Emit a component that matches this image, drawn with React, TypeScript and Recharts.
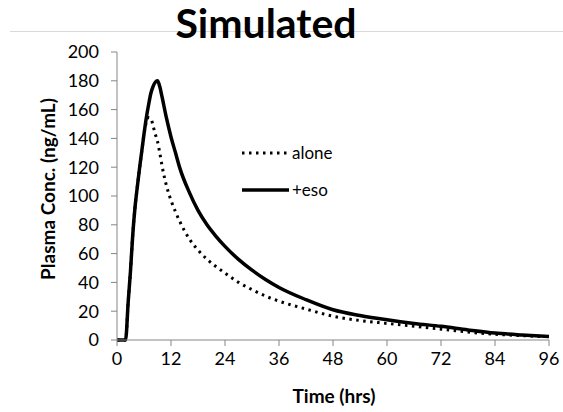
import React from "react";
import { LineChart, Line, XAxis, YAxis, Legend } from "recharts";

const times = [0, 1, 1.9, 2.5, 3, 3.5, 4, 4.5, 5, 5.5, 6, 6.5, 7, 7.5, 8, 8.5, 9, 9.5, 10, 11, 12, 13, 14, 16, 18, 20, 22, 24, 27, 30, 33, 36, 42, 48, 54, 60, 66, 72, 78, 84, 90, 96];
const eso = [0, 0, 0, 27, 48, 73, 92, 106, 119, 131, 143, 154, 163, 171, 176, 179, 180, 176, 169, 154, 141, 130, 119, 103, 90, 80, 72, 65, 56, 48.5, 42, 36.5, 28, 21, 17, 14, 11.5, 9.5, 7, 4.8, 3.5, 2.5];
const alone = [0, 0, 0, 27, 48, 73, 92, 106, 119, 131, 143, 151, 154.5, 154, 149, 143, 138, 130, 121, 107, 97, 89, 82, 70.5, 62.5, 56, 51, 46.5, 40, 35, 30.5, 27, 21.5, 16.5, 13.5, 11.5, 9.5, 7.5, 5.5, 4, 3, 2.3];
const xTicks = [0, 12, 24, 36, 48, 60, 72, 84, 96];
const yTicks = [0, 20, 40, 60, 80, 100, 120, 140, 160, 180, 200];
const legendOrder = ["alone", "+eso"];

const data = times.map((t, i) => ({ t, eso: eso[i], alone: alone[i] }));

const FONT = "Lato, 'Open Sans', sans-serif";

const LegendContent = (props: any) => {
  const payload = [...(props.payload || [])].sort(
    (a: any, b: any) => legendOrder.indexOf(a.value) - legendOrder.indexOf(b.value)
  );
  return (
    <div style={{ fontFamily: FONT, fontSize: 17, color: "#000" }}>
      {payload.map((p: any, i: number) => (
        <div key={i} style={{ display: "flex", alignItems: "center", height: 37 }}>
          <svg width={50} height={10}>
            <line
              x1={1}
              x2={48}
              y1={5}
              y2={5}
              stroke="#000"
              strokeWidth={p.payload?.strokeWidth ?? 3}
              strokeDasharray={p.payload?.strokeDasharray}
            />
          </svg>
          <span style={{ marginLeft: 1 }}>{p.value}</span>
        </div>
      ))}
    </div>
  );
};

export default function App() {
  return (
    <div style={{ position: "absolute", left: 0, top: 0, width: 563, height: 412, background: "#fff" }}>
      <LineChart width={563} height={412} data={data} margin={{ top: 52, right: 14, bottom: 42, left: 57 }}>
        <XAxis
          dataKey="t"
          type="number"
          domain={[0, 96]}
          ticks={xTicks}
          height={30}
          stroke="#868686"
          tickSize={6}
          tick={{ fill: "#000", fontSize: 18, fontFamily: FONT }}
          tickMargin={6}
        />
        <YAxis
          type="number"
          domain={[0, 200]}
          ticks={yTicks}
          width={60}
          stroke="#868686"
          tickSize={6}
          tick={{ fill: "#000", fontSize: 18, fontFamily: FONT }}
          tickMargin={12}
        />
        <Legend
          layout="vertical"
          verticalAlign="middle"
          align="center"
          wrapperStyle={{ left: 241, top: 134, width: 140 }}
          content={<LegendContent />}
        />
        <Line
          dataKey="alone"
          name="alone"
          type="monotone"
          stroke="#000"
          strokeWidth={3}
          strokeDasharray="2.5 4.5"
          dot={false}
          isAnimationActive={false}
        />
        <Line
          dataKey="eso"
          name="+eso"
          type="monotone"
          stroke="#000"
          strokeWidth={3.5}
          dot={false}
          isAnimationActive={false}
        />
      </LineChart>
      <svg width={563} height={412} style={{ position: "absolute", left: 0, top: 0, pointerEvents: "none" }}>
        <line x1={10} x2={563} y1={31.5} y2={31.5} stroke="#d9d9d9" strokeWidth={1} />
        <text x={266} y={38} textAnchor="middle" fontFamily={FONT} fontWeight="bold" fontSize={41} fill="#000">
          Simulated
        </text>
        <text
          x={0}
          y={0}
          transform="translate(55,189) rotate(-90)"
          textAnchor="middle"
          fontFamily={FONT}
          fontWeight="bold"
          fontSize={19}
          fill="#000"
        >
          Plasma Conc. (ng/mL)
        </text>
        <text x={334} y={403} textAnchor="middle" fontFamily={FONT} fontWeight="bold" fontSize={19} fill="#000">
          Time (hrs)
        </text>
      </svg>
    </div>
  );
}
